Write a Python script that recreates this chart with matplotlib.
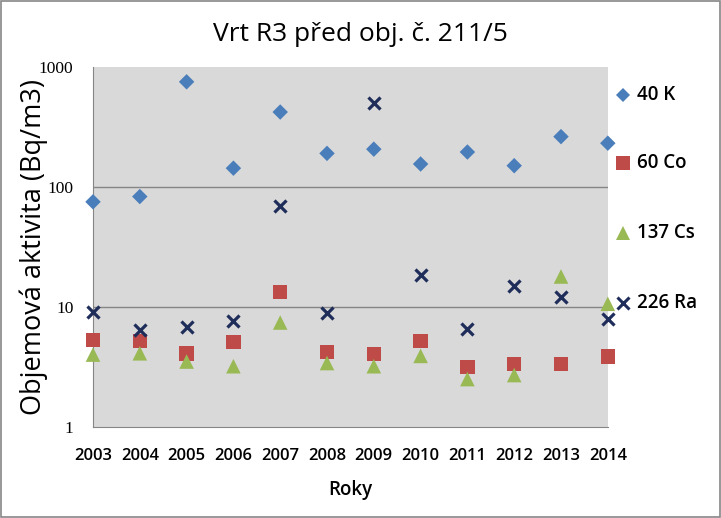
import matplotlib
matplotlib.use("Agg")
import matplotlib.pyplot as plt
from matplotlib.patches import Rectangle

years = ["2003", "2004", "2005", "2006", "2007", "2008", "2009", "2010", "2011", "2012", "2013", "2014"]
k40 = [75, 83, 750, 143, 420, 190, 206, 155, 195, 150, 262, 231]
co60 = [5.3, 5.2, 4.1, 5.1, 13.3, 4.2, 4.05, 5.2, 3.15, 3.35, 3.35, 3.85]
cs137 = [4.0, 4.1, 3.5, 3.2, 7.4, 3.4, 3.2, 3.9, 2.5, 2.7, 17.9, 10.6]
ra226 = [9.0, 6.35, 6.85, 7.55, 69.5, 8.9, 498, 18.5, 6.5, 15.0, 12.0, 7.9]
series_names = ["40 K", "60 Co", "137 Cs", "226 Ra"]

sans = ["Open Sans", "DejaVu Sans"]

fig = plt.figure(figsize=(7.21, 5.18), dpi=100)
fig.patches.append(Rectangle((0.0015, 0.002), 0.997, 0.996, transform=fig.transFigure,
                             fill=False, edgecolor="#868686", linewidth=1.2))
ax = fig.add_axes([0.129, 0.176, 0.714, 0.695])
ax.set_facecolor("#d9d9d9")

x = list(range(len(years)))
styles = [
    dict(marker="D", color="#4a7ebb", s=62),
    dict(marker="s", color="#be4b48", s=110),
    dict(marker="^", color="#98b954", s=110),
    dict(marker="x", color="#1f2d5a", s=75),
]
handles = []
for data, st, name in zip([k40, co60, cs137, ra226], styles, series_names):
    if st["marker"] == "x":
        h = ax.scatter(x, data, marker="x", color=st["color"], s=st["s"], linewidths=2.3,
                       clip_on=False, zorder=3, label=name)
    else:
        h = ax.scatter(x, data, marker=st["marker"], color=st["color"], s=st["s"],
                       edgecolors="none", clip_on=False, zorder=3, label=name)
    handles.append(h)

ax.set_yscale("log")
ax.set_ylim(1, 1000)
ax.set_xlim(0, 11)
ax.set_yticks([1, 10, 100, 1000])
ax.set_yticklabels(["1", "10", "100", "1000"], fontfamily="Liberation Serif", fontsize=12.5)
ax.yaxis.set_minor_locator(matplotlib.ticker.NullLocator())
ax.set_xticks(x)
ax.set_xticklabels(years, fontfamily=sans, fontsize=12, fontweight="semibold")
ax.tick_params(axis="y", length=0, pad=14)
ax.tick_params(axis="x", length=0, pad=15)
for yv in [10, 100]:
    ax.axhline(yv, color="#868686", linewidth=1.0, zorder=1)
for side in ["top", "right"]:
    ax.spines[side].set_visible(False)
ax.spines["left"].set_color("#868686")
ax.spines["bottom"].set_color("#868686")

ax.set_xlabel("Roky", fontfamily=sans, fontsize=13.5, fontweight="semibold", labelpad=12)
ax.set_ylabel("Objemová aktivita (Bq/m3)", fontfamily=sans, fontsize=19.5, labelpad=4)
ax.yaxis.set_label_coords(-0.087, 0.5)
fig.text(0.5, 0.933, "Vrt R3 před obj. č. 211/5", ha="center", va="center",
         fontfamily=sans, fontsize=19)

leg_y = [95, 163, 233, 303]
for h, name, yy, st in zip(handles, series_names, leg_y, styles):
    fy = 1 - yy / 518
    fx = 623 / 721
    if st["marker"] == "x":
        fig.add_artist(plt.Line2D([fx], [fy], marker="x", color=st["color"], markersize=8,
                                  markeredgewidth=2.2, linestyle="none", transform=fig.transFigure))
    else:
        ms = 7 if st["marker"] == "D" else 9.5
        fig.add_artist(plt.Line2D([fx], [fy], marker=st["marker"], color=st["color"], markersize=ms,
                                  markeredgewidth=0, linestyle="none", transform=fig.transFigure))
    fig.text(637 / 721, fy, name, ha="left", va="center", fontfamily=sans, fontsize=13.5,
             fontweight="semibold")

fig.savefig("out.png", dpi=100)
